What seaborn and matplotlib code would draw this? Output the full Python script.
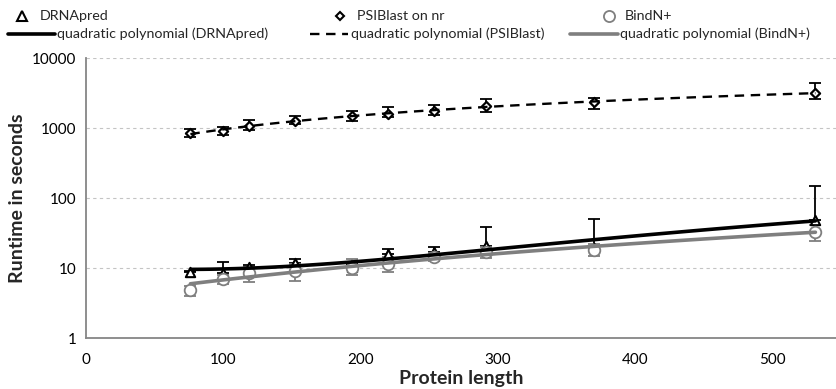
import numpy as np
import pandas as pd
import matplotlib
matplotlib.use("Agg")
import matplotlib.pyplot as plt
import seaborn as sns
from matplotlib.lines import Line2D
from matplotlib.ticker import FixedLocator, FixedFormatter, LogLocator, NullFormatter

# ---- data ----
protein_length = [76, 100, 119, 152, 194, 220, 253, 291, 370, 531]
drnapred = [8.8, 8.5, 10.3, 11.8, 10.5, 15.9, 17.0, 20.7, 19.5, 48.6]
drnapred_err_up = [0.4, 3.7, 0.7, 1.7, 1.0, 2.9, 3.0, 18.3, 30.5, 101.0]
psiblast = [840, 915, 1080, 1270, 1480, 1590, 1770, 2070, 2370, 3150]
psiblast_err_lo = [100, 115, 130, 130, 230, 150, 220, 370, 490, 550]
psiblast_err_up = [130, 115, 220, 230, 290, 410, 370, 530, 280, 1250]
bindn = [4.8, 6.9, 8.5, 9.0, 10.0, 11.4, 14.5, 17.0, 18.0, 33.0]
bindn_err_lo = [0.8, 1.0, 2.2, 2.4, 2.1, 2.6, 1.8, 3.0, 3.0, 9.0]
bindn_err_up = [0.8, 1.0, 2.0, 2.4, 3.5, 3.0, 1.8, 3.0, 4.0, 8.0]

y_ticks = [1, 10, 100, 1000, 10000]
y_tick_labels = ["1", "10", "100", "1000", "10000"]
x_ticks = [0, 100, 200, 300, 400, 500]

df = pd.DataFrame({
    "length": protein_length,
    "DRNApred": drnapred,
    "PSIBlast": psiblast,
    "BindN": bindn,
})

sns.set_style("white")
plt.rcParams["font.family"] = ["Lato", "DejaVu Sans"]

W, H = 836, 389
fig = plt.figure(figsize=(W / 100, H / 100), dpi=100)
ax = fig.add_axes([86 / W, 1 - 338 / H, (W - 86) / W, (338 - 58) / H])

GRAY = "#7f7f7f"
AXC = "#868686"
DASH = (0, (4, 2.8))

# error bars
ax.errorbar(protein_length, drnapred, yerr=[np.zeros(len(drnapred)), drnapred_err_up],
            fmt="none", ecolor="black", elinewidth=1.3, capsize=4, capthick=1.3, zorder=1.5)
ax.errorbar(protein_length, psiblast, yerr=[psiblast_err_lo, psiblast_err_up],
            fmt="none", ecolor="black", elinewidth=1.3, capsize=4, capthick=1.3, zorder=1.5)
ax.errorbar(protein_length, bindn, yerr=[bindn_err_lo, bindn_err_up],
            fmt="none", ecolor=GRAY, elinewidth=1.3, capsize=4, capthick=1.3, zorder=1.5)

# markers
sns.scatterplot(data=df, x="length", y="DRNApred", marker="^", s=45, facecolor="white",
                edgecolor="black", linewidth=1.5, ax=ax, zorder=2)
sns.scatterplot(data=df, x="length", y="PSIBlast", marker="D", s=22, facecolor="white",
                edgecolor="black", linewidth=1.6, ax=ax, zorder=2)
sns.scatterplot(data=df, x="length", y="BindN", marker="o", s=70, facecolor="white",
                edgecolor=GRAY, linewidth=1.3, ax=ax, zorder=2)

# quadratic polynomial fits
sns.regplot(data=df, x="length", y="DRNApred", order=2, scatter=False, ci=None, truncate=True,
            ax=ax, line_kws=dict(color="black", lw=2.6, zorder=3.2))
sns.regplot(data=df, x="length", y="PSIBlast", order=2, scatter=False, ci=None, truncate=True,
            ax=ax, line_kws=dict(color="black", lw=1.7, ls=DASH, zorder=3.1))
sns.regplot(data=df, x="length", y="BindN", order=2, scatter=False, ci=None, truncate=True,
            ax=ax, line_kws=dict(color=GRAY, lw=2.6, zorder=3.0))

ax.set_yscale("log")
ax.set_ylim(1, 10000)
ax.set_xlim(0, 546)
ax.yaxis.set_major_locator(FixedLocator(y_ticks))
ax.yaxis.set_major_formatter(FixedFormatter(y_tick_labels))
ax.yaxis.set_minor_locator(LogLocator(base=10, subs=np.arange(2, 10)))
ax.yaxis.set_minor_formatter(NullFormatter())
ax.set_xticks(x_ticks)

ax.yaxis.grid(True, which="major", color="#c4c4c4", lw=0.8, ls=(0, (3, 3)))
ax.xaxis.grid(False)
for s in ["top", "right"]:
    ax.spines[s].set_visible(False)
for s in ["left", "bottom"]:
    ax.spines[s].set_color(AXC)
    ax.spines[s].set_linewidth(1.3)

ax.tick_params(axis="both", which="major", direction="out", length=5, width=1.1,
               color=AXC, labelsize=11, labelcolor="black", pad=2)
ax.tick_params(axis="y", which="minor", direction="out", length=3, width=0.8, color=AXC)
ax.tick_params(axis="x", which="major", pad=6)

ax.set_xlabel("Protein length", fontsize=14, fontweight="bold", labelpad=2)
ax.set_ylabel("Runtime in seconds", fontsize=14, fontweight="bold", labelpad=4)

# legend (Excel-like free layout, positions in pixels)
def fx(px):
    return px / W

def fy(py):
    return 1 - py / H

LEG_FS = 10.3
row1, row2 = 16, 34
marker_entries = [
    (22, 40, dict(marker="^", mfc="white", mec="black", ms=7, mew=1.5), "DRNApred"),
    (340, 357, dict(marker="D", mfc="white", mec="black", ms=4.5, mew=1.5), "PSIBlast on nr"),
    (609, 625, dict(marker="o", mfc="white", mec=GRAY, ms=8, mew=1.3), "BindN+"),
]
for xm, xt, kw, lab in marker_entries:
    fig.add_artist(Line2D([fx(xm)], [fy(row1)], ls="none", transform=fig.transFigure, **kw))
    fig.text(fx(xt), fy(row1), lab, fontsize=LEG_FS, va="center", ha="left")

line_entries = [
    (8, 55, 57, dict(color="black", lw=2.6), "quadratic polynomial (DRNApred)"),
    (310, 348, 351, dict(color="black", lw=1.7, ls=DASH), "quadratic polynomial (PSIBlast)"),
    (570, 618, 620, dict(color=GRAY, lw=2.6), "quadratic polynomial (BindN+)"),
]
for x0, x1, xt, kw, lab in line_entries:
    fig.add_artist(Line2D([fx(x0), fx(x1)], [fy(row2), fy(row2)], transform=fig.transFigure, **kw))
    fig.text(fx(xt), fy(row2), lab, fontsize=LEG_FS, va="center", ha="left")

fig.savefig("out.png", dpi=100)
